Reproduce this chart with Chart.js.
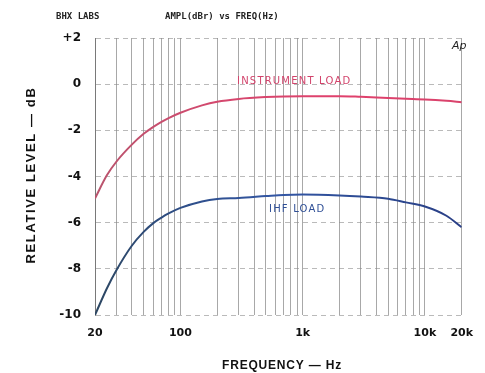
<!DOCTYPE html>
<html>
<head>
<meta charset="utf-8">
<script src="https://cdn.jsdelivr.net/npm/chart.js@4.4.0/dist/chart.umd.min.js"></script>
<style>
  body { margin: 0; background: #fff; }
  canvas { display: block; }
</style>
</head>
<body>
<canvas id="chart" width="485" height="373"></canvas>
<script>
// frequencies (Hz) and levels (dB)
const freqs = [20, 25, 30, 40, 50, 60, 70, 80, 100, 150, 200, 300, 500, 700, 1000, 2000, 3000, 5000, 7000, 10000, 15000, 20000];
const instrumentLoad = [-4.95, -3.95, -3.35, -2.62, -2.15, -1.85, -1.63, -1.47, -1.24, -0.92, -0.76, -0.64, -0.56, -0.53, -0.52, -0.52, -0.55, -0.6, -0.63, -0.66, -0.72, -0.78];
const ihfLoad = [-10, -8.85, -8.05, -7.0, -6.4, -6.02, -5.78, -5.6, -5.36, -5.08, -4.97, -4.93, -4.85, -4.8, -4.78, -4.82, -4.87, -4.96, -5.12, -5.3, -5.7, -6.2];

// log grid lines and which of them get a label
const gridFreqs = [20, 30, 40, 50, 60, 70, 80, 90, 100, 200, 300, 400, 500, 600, 700, 800, 900,
  1000, 2000, 3000, 4000, 5000, 6000, 7000, 8000, 9000, 10000, 20000];
const freqLabels = { 20: '20', 100: '100', 1000: '1k', 10000: '10k', 20000: '20k' };

function toPoints(ys) {
  return freqs.map((f, i) => ({ x: f, y: ys[i] }));
}

function gradient(chart, stops) {
  const ca = chart.chartArea;
  if (!ca) return stops[0];
  const g = chart.ctx.createLinearGradient(ca.left, 0, ca.right, 0);
  stops.forEach((c, i) => g.addColorStop(i / (stops.length - 1), c));
  return g;
}

// extra text: header, curve names, axis titles
const labelsPlugin = {
  id: 'labels',
  afterDraw(chart) {
    const ctx = chart.ctx;
    ctx.save();
    ctx.fillStyle = '#222';
    ctx.textBaseline = 'middle';
    ctx.font = 'bold 9px "DejaVu Sans Mono"';
    ctx.fillText('BHX LABS', 56, 17);
    ctx.fillText('AMPL(dBr) vs FREQ(Hz)', 165, 17);
    ctx.font = 'italic 11px "DejaVu Sans"';
    ctx.fillText('Ap', 452, 46);

    ctx.letterSpacing = '1.2px';
    ctx.font = '10px "DejaVu Sans"';
    ctx.fillStyle = '#d2436b';
    ctx.fillText('INSTRUMENT LOAD', 237, 81);
    ctx.fillStyle = '#2f4f96';
    ctx.fillText('IHF LOAD', 269, 209);

    ctx.fillStyle = '#111';
    ctx.letterSpacing = '0.8px';
    ctx.font = 'bold 12px "Liberation Sans"';
    ctx.textAlign = 'center';
    ctx.fillText('FREQUENCY — Hz', 282, 366);

    ctx.letterSpacing = '1.6px';
    ctx.font = 'bold 13px "Liberation Sans"';
    ctx.translate(31, 175);
    ctx.rotate(-Math.PI / 2);
    ctx.fillText('RELATIVE LEVEL — dB', 0, 0);
    ctx.restore();
  }
};

new Chart(document.getElementById('chart'), {
  type: 'line',
  data: {
    datasets: [
      {
        label: 'INSTRUMENT LOAD',
        data: toPoints(instrumentLoad),
        borderColor: c => gradient(c.chart, ['#b9556e', '#d4486e', '#e0406c', '#d9436c']),
        borderWidth: 2,
        pointRadius: 0,
        cubicInterpolationMode: 'monotone'
      },
      {
        label: 'IHF LOAD',
        data: toPoints(ihfLoad),
        borderColor: c => gradient(c.chart, ['#2d4762', '#2f4f8a', '#3356a4', '#2c4a92', '#2a3f86']),
        borderWidth: 2,
        pointRadius: 0,
        cubicInterpolationMode: 'monotone'
      }
    ]
  },
  options: {
    responsive: false,
    animation: false,
    devicePixelRatio: 1,
    layout: { padding: { top: 38, right: 12, left: 0, bottom: 0 } },
    plugins: { legend: { display: false }, tooltip: { enabled: false } },
    scales: {
      x: {
        type: 'logarithmic',
        min: 20,
        max: 20000,
        afterBuildTicks: s => { s.ticks = gridFreqs.map(v => ({ value: v })); },
        afterFit: s => { s.height = 58; },
        grid: { color: 'rgba(110,110,110,0.6)', lineWidth: 1, drawTicks: false },
        border: { display: false },
        ticks: {
          autoSkip: false,
          maxRotation: 0,
          padding: 12,
          color: '#111',
          font: { family: 'DejaVu Sans', size: 11, weight: 'bold' },
          callback: v => freqLabels[v] || ''
        }
      },
      y: {
        min: -10,
        max: 2,
        afterFit: s => { s.width = 95; },
        grid: { color: 'rgba(140,140,140,0.6)', lineWidth: 1, drawTicks: false },
        border: { display: true, color: 'rgba(110,110,110,0.8)', dash: [5, 4] },
        ticks: {
          stepSize: 2,
          padding: 14,
          color: '#111',
          font: { family: 'DejaVu Sans', size: 12, weight: 'bold' },
          callback: v => (v > 0 ? '+' + v : String(v))
        }
      }
    }
  },
  plugins: [labelsPlugin]
});
</script>
</body>
</html>
